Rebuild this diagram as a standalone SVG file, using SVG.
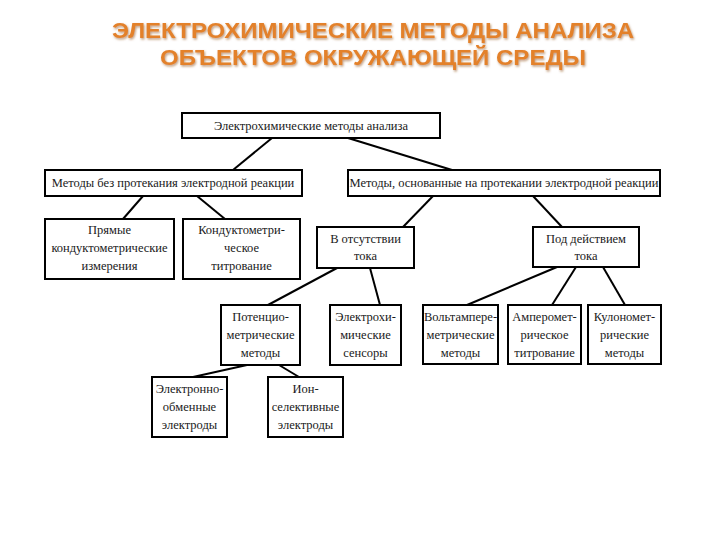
<svg xmlns="http://www.w3.org/2000/svg" width="720" height="540" viewBox="0 0 720 540">
<defs>
<filter id="sh" x="-5%" y="-20%" width="110%" height="150%">
<feDropShadow dx="1" dy="1.5" stdDeviation="1" flood-color="#8a4a10" flood-opacity="0.55"/>
</filter>
<style>
.title{font-family:"Liberation Sans",Arial,sans-serif;font-weight:bold;font-size:22px;fill:#E3812C;text-anchor:middle;filter:url(#sh)}
.box{fill:#fff;stroke:#000;stroke-width:2}
.t{font-family:"Liberation Serif","Times New Roman",serif;font-size:12.5px;fill:#1a1a1a;text-anchor:middle}
.c{stroke:#000;stroke-width:2;fill:none}
</style>
</defs>
<rect width="720" height="540" fill="#fff"/>
<g id="title">
<text class="title" x="373" y="38" textLength="522" lengthAdjust="spacingAndGlyphs">ЭЛЕКТРОХИМИЧЕСКИЕ МЕТОДЫ АНАЛИЗА</text>
<text class="title" x="373" y="65" textLength="426" lengthAdjust="spacingAndGlyphs">ОБЪЕКТОВ ОКРУЖАЮЩЕЙ СРЕДЫ</text>
</g>
<g id="connectors">
<line class="c" x1="272" y1="138" x2="233" y2="170"/>
<line class="c" x1="348" y1="138" x2="452" y2="170"/>
<line class="c" x1="143" y1="196" x2="123" y2="219"/>
<line class="c" x1="197" y1="196" x2="225" y2="219"/>
<line class="c" x1="433" y1="196" x2="403" y2="227"/>
<line class="c" x1="533" y1="196" x2="562" y2="227"/>
<line class="c" x1="337" y1="268" x2="268" y2="305"/>
<line class="c" x1="370" y1="268" x2="380" y2="305"/>
<line class="c" x1="557" y1="267" x2="467" y2="305"/>
<line class="c" x1="576" y1="267" x2="552" y2="305"/>
<line class="c" x1="603" y1="267" x2="625" y2="305"/>
<line class="c" x1="247" y1="365" x2="193" y2="377"/>
<line class="c" x1="279" y1="365" x2="299" y2="377"/>
</g>
<g id="root">
<rect class="box" x="182" y="113" width="258" height="25"/>
<text class="t" x="311" y="130">Электрохимические методы анализа</text>
</g>
<g id="no-reaction">
<rect class="box" x="45" y="170" width="257" height="26"/>
<text class="t" x="173" y="187">Методы без протекания электродной реакции</text>
</g>
<g id="reaction">
<rect class="box" x="348" y="170" width="312" height="26"/>
<text class="t" x="504" y="187">Методы, основанные на  протекании электродной реакции</text>
</g>
<g id="direct">
<rect class="box" x="45" y="219" width="129" height="60"/>
<text class="t" x="109.5" y="234">Прямые</text>
<text class="t" x="109.5" y="252">кондуктометрические</text>
<text class="t" x="109.5" y="270">измерения</text>
</g>
<g id="conduct-titr">
<rect class="box" x="183" y="219" width="117" height="60"/>
<text class="t" x="241.5" y="234">Кондуктометри-</text>
<text class="t" x="241.5" y="252">ческое</text>
<text class="t" x="241.5" y="270">титрование</text>
</g>
<g id="no-current">
<rect class="box" x="317" y="227" width="97" height="41"/>
<text class="t" x="365.5" y="243">В отсутствии</text>
<text class="t" x="365.5" y="260">тока</text>
</g>
<g id="current">
<rect class="box" x="533" y="227" width="106" height="40"/>
<text class="t" x="586" y="243">Под действием</text>
<text class="t" x="586" y="260">тока</text>
</g>
<g id="potentio">
<rect class="box" x="221" y="305" width="79" height="60"/>
<text class="t" x="260.5" y="321">Потенцио-</text>
<text class="t" x="260.5" y="339">метрические</text>
<text class="t" x="260.5" y="357">методы</text>
</g>
<g id="sensors">
<rect class="box" x="330" y="305" width="71" height="60"/>
<text class="t" x="365.5" y="321">Электрохи-</text>
<text class="t" x="365.5" y="339">мические</text>
<text class="t" x="365.5" y="357">сенсоры</text>
</g>
<g id="voltamp">
<rect class="box" x="423" y="305" width="75" height="59"/>
<text class="t" x="460.5" y="321">Вольтампере-</text>
<text class="t" x="460.5" y="339">метрические</text>
<text class="t" x="460.5" y="357">методы</text>
</g>
<g id="amperometric">
<rect class="box" x="508" y="305" width="73" height="59"/>
<text class="t" x="544.5" y="321">Амперомет-</text>
<text class="t" x="544.5" y="339">рическое</text>
<text class="t" x="544.5" y="357">титрование</text>
</g>
<g id="coulomb">
<rect class="box" x="588" y="305" width="73" height="59"/>
<text class="t" x="624.5" y="321">Кулономет-</text>
<text class="t" x="624.5" y="339">рические</text>
<text class="t" x="624.5" y="357">методы</text>
</g>
<g id="electron-exchange">
<rect class="box" x="152" y="377" width="75" height="60"/>
<text class="t" x="189.5" y="393">Электронно-</text>
<text class="t" x="189.5" y="411">обменные</text>
<text class="t" x="189.5" y="429">электроды</text>
</g>
<g id="ion-selective">
<rect class="box" x="268" y="377" width="75" height="60"/>
<text class="t" x="305.5" y="393">Ион-</text>
<text class="t" x="305.5" y="411">селективные</text>
<text class="t" x="305.5" y="429">электроды</text>
</g>
</svg>
